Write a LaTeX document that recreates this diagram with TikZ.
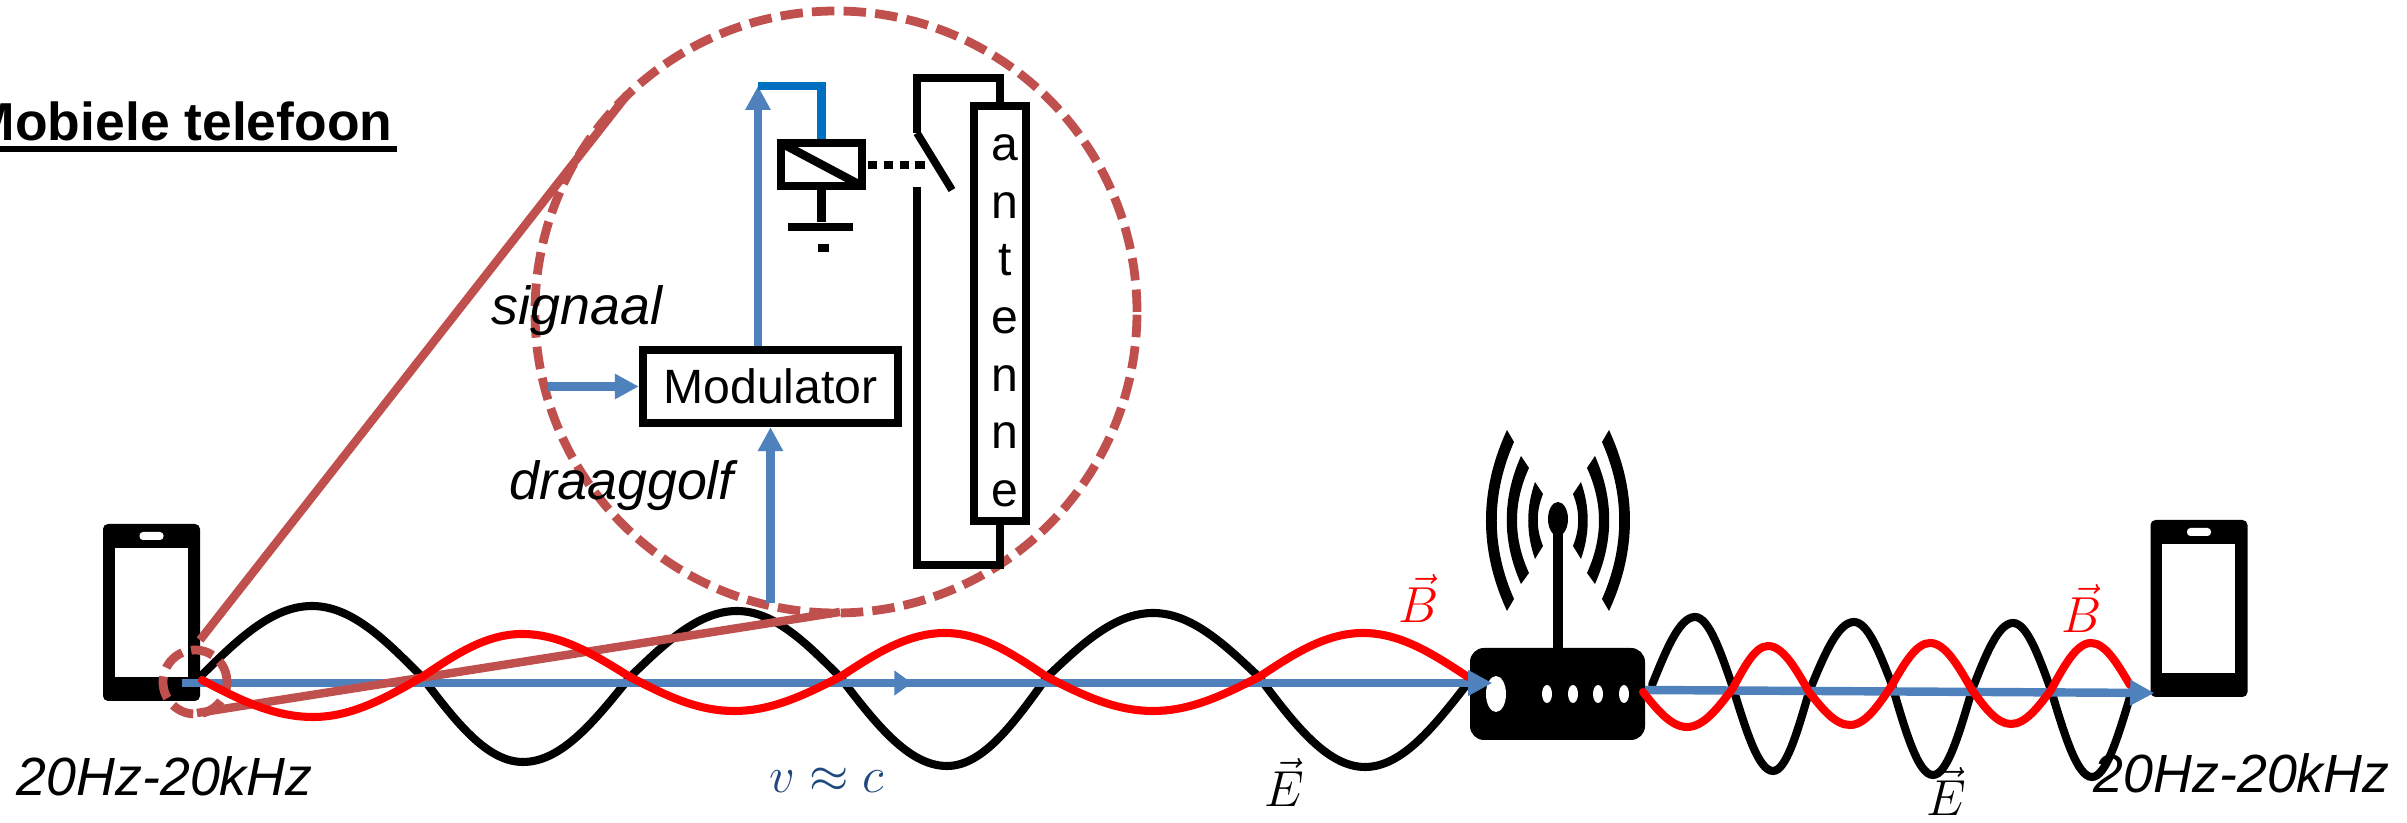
\documentclass[tikz,border=0pt]{standalone}
\usepackage{amsmath,amssymb}
\usepackage{fontspec}
\setmainfont{Liberation Sans}
\usetikzlibrary{arrows.meta,calc,shapes.geometric}
\definecolor{wireblue}{HTML}{4F81BD}
\definecolor{relayblue}{HTML}{0070C0}
\definecolor{zoomred}{HTML}{C0504D}
\definecolor{mathblue}{HTML}{1F497D}

% one arc of the radio symbol, mirrored with xscale
\newcommand{\radioarc}[8]{%
  \pgfmathsetmacro{\arcA}{#3+(#4-#3)/3}
  \pgfmathsetmacro{\arcB}{#4-(#4-#3)/3}
  \pgfmathsetmacro{\arcC}{#7+(#8-#7)/3}
  \pgfmathsetmacro{\arcD}{#8-(#8-#7)/3}
  \fill (#1,#3) .. controls (#2,\arcA) and (#2,\arcB) .. (#1,#4) -- (#5,#8)
    .. controls (#6,\arcD) and (#6,\arcC) .. (#5,#7) -- cycle;
}

\begin{document}
\begin{tikzpicture}[
  x=0.1mm, y=-0.1mm,
  box/.style={rectangle, draw=black, line width=2.4pt, fill=white, inner sep=0pt},
  phone/.style={rectangle, fill=black, rounded corners=0.5mm, minimum width=9.7mm, minimum height=17.7mm, inner sep=0pt},
  screen/.style={rectangle, fill=white, minimum width=7.3mm, minimum height=12.9mm, inner sep=0pt},
  speaker/.style={rectangle, fill=white, rounded corners=0.35mm, minimum width=2.4mm, minimum height=0.8mm, inner sep=0pt},
  hole/.style={ellipse, fill=white, inner sep=0pt},
  label/.style={font=\fontsize{15.3}{18}\selectfont\itshape, anchor=base west, inner sep=0pt},
  field/.style={font=\fontsize{14.5}{18}\selectfont, anchor=base, inner sep=0pt},
  arrow/.style={-{Triangle[length=6.8pt,width=6.8pt]}, line width=2.4pt, wireblue},
  wave/.style={line width=2.3pt, line cap=round},
  wire/.style={line width=2.2pt, black},
  zoomline/.style={line width=2.4pt, zoomred},
  zoomring/.style={circle, draw=zoomred, line width=2.5pt, dash pattern=on 6.4pt off 2.6pt, inner sep=0pt}
]
\useasboundingbox (0,0) rectangle (2407,823);

% === Left phone ===
\node[phone] (phoneL) at (151.5,612.5) {};
\node[screen] (screenL) at (151.5,612.5) {};
\node[speaker] (speakerL) at (151.5,536) {};

% === Right phone ===
\node[phone] (phoneR) at (2199,608.5) {};
\node[screen] (screenR) at (2198.5,608.5) {};
\node[speaker] (speakerR) at (2199,532) {};

% === Router ===
\node[rectangle, fill=black, rounded corners=1.4mm, minimum width=17.5mm, minimum height=9.2mm, inner sep=0pt] (router) at (1557.5,694) {};
\node[hole, minimum width=2mm, minimum height=3.6mm] (ledbig) at (1496,694) {};
\foreach \x/\name in {1547/ledA,1573/ledB,1598/ledC,1624/ledD}
  \node[hole, minimum width=1mm, minimum height=1.8mm] (\name) at (\x,694) {};
\fill (1553,533) rectangle (1563,650);
\fill (1558,519) ellipse [x radius=10, y radius=17];
\foreach \side in {1,-1} {
  \begin{scope}[xshift=155.8mm, xscale=\side]
    \radioarc{51}{79}{430}{611}{44}{67}{442}{599}
    \radioarc{37}{56}{456}{584}{29}{45}{468}{573}
    \radioarc{23}{32}{482}{559}{15}{22}{494}{546}
  \end{scope}
}

% === Black E wave, left ===
\draw[wave] (200,677) sin (312,606) cos (422,677) sin (523,762) cos (630,677)
  sin (737,611) cos (840,677) sin (947,766) cos (1047,677)
  sin (1153,613) cos (1259,677) sin (1365,767) cos (1468,683);

% === Black E wave, right ===
\draw[wave] (1652,685) sin (1695,617) cos (1733,688) sin (1773,771) cos (1809,692)
  sin (1854,622) cos (1892,685) sin (1933,775) cos (1972,690)
  sin (2013,623) cos (2051,690) sin (2092,777) cos (2130,697);

% === Blue carrier arrows ===
\coordinate (txstart) at (182,683);
\coordinate (txmid) at (912,683);
\coordinate (txend) at (1492,683);
\coordinate (rxstart) at (1645,690);
\coordinate (rxend) at (2154,693);
\draw[arrow] (txstart) -- (txend);
\draw[arrow, -{Triangle[length=5pt,width=6.8pt]}] (txstart) -- (txmid);
\draw[arrow] (rxstart) -- (rxend);

% === Zoom circle and lines ===
\coordinate (zoomtop) at (627,95);
\coordinate (zoomlow) at (840,612);
\coordinate (spottop) at (200,640);
\coordinate (spotlow) at (197,713);
\draw[zoomline] (spottop) -- (zoomtop);
\draw[zoomline] (spotlow) -- (zoomlow);
\node[zoomring, minimum size=60.2mm] (ring) at (836,312) {};
\node[zoomring, minimum size=6.4mm] (spot) at (195,682) {};

% === Red B wave, left ===
\draw[wave, red] (202,680) sin (313,717) cos (422,677) sin (522,634) cos (630,677)
  sin (734,711) cos (840,677) sin (945,633) cos (1047,677)
  sin (1153,711) cos (1259,677) sin (1363,633) cos (1468,677);

% === Red B wave, right ===
\draw[wave, red] (1643,692) sin (1687,727) cos (1733,688) sin (1768,646) cos (1809,692)
  sin (1850,725) cos (1892,685) sin (1930,643) cos (1972,690)
  sin (2011,724) cos (2051,690) sin (2091,643) cos (2130,685);

% === Arrow heads over the red waves ===
\draw[arrow] (1470,683) -- (txend);
\draw[arrow] (2128,692.5) -- (rxend);

% === Modulator ===
\node[box, minimum width=25.5mm, minimum height=7.3mm, font=\fontsize{13.7}{16}\selectfont] (modulator) at (770.5,386.5) {Modulator};
\coordinate (signalin) at (548,386.5);
\coordinate (carrierin) at (770.5,603);
\coordinate (rfout) at (758,86);
\draw[arrow] (signalin) -- (modulator.west);
\draw[arrow] (carrierin) -- (modulator.south);
\draw[arrow] (modulator.north -| rfout) -- (rfout);

% === Relay ===
\node[box, minimum width=8.1mm, minimum height=4.3mm] (relay) at (821.5,164.5) {};
\draw[line width=2.4pt] (781,143) -- (862,186);
\draw[line width=2.4pt, relayblue] (rfout) -- (rfout -| relay.north) -- (relay.north);
\node[rectangle, fill=black, minimum width=6.5mm, minimum height=0.8mm, inner sep=0pt] (groundbar) at (820.5,227) {};
\node[rectangle, fill=black, minimum width=1.1mm, minimum height=0.8mm, inner sep=0pt] (grounddot) at (823,248) {};
\draw[wire, line width=2.4pt] (relay.south) -- (relay.south |- groundbar.north);

% === Antenna ===
\node[box, minimum width=5.2mm, minimum height=41.5mm] (antenna) at (1000,313.5) {};
\node[font=\fontsize{13.7}{16.4}\selectfont, align=center, inner sep=0pt, anchor=north] (antennatext) at (1005,134) {a\\n\\t\\e\\n\\n\\e};

% === Switch ===
\coordinate (swtop) at (917,133);
\coordinate (swtip) at (952,190);
\coordinate (swlow) at (917,187);
\draw[wire] (swtop) -- (swtip);
\draw[wire] (swtop) -- (917,78) -- (1000,78) -- (antenna.north);
\draw[wire] (swlow) -- (917,565) -- (1000,565) -- (antenna.south);
\coordinate (swlink) at (925,165);
\draw[line width=2.4pt, dash pattern=on 2.6pt off 1.9pt] (868,165) -- (swlink);

% === Texts ===
\node[font=\fontsize{15.2}{18}\selectfont\bfseries, anchor=base east, inner sep=0pt] (title) at (393,141) {Mobiele telefoon};
\draw[line width=1.5pt] ($(title.base west)+(0,8)$) -- ($(title.base east)+(4,8)$);
\node[label] (signal) at (491,325) {signaal};
\node[label] (carrier) at (509,500) {draaggolf};
\node[label] (freqL) at (16,796) {20Hz-20kHz};
\node[label] (freqR) at (2093,793) {20Hz-20kHz};
\node[field, font=\fontsize{15.5}{18}\selectfont, text=mathblue, anchor=base west] (speed) at (769,793) {$v\approx c$};
\node[field] (fieldE) at (1284,807) {$\vec{E}$};
\node[field] (fieldEb) at (1946,816) {$\vec{E}$};
\node[field, text=red] (fieldB) at (1419,623) {$\vec{B}$};
\node[field, text=red] (fieldBb) at (2082,633) {$\vec{B}$};

\end{tikzpicture}
\end{document}
